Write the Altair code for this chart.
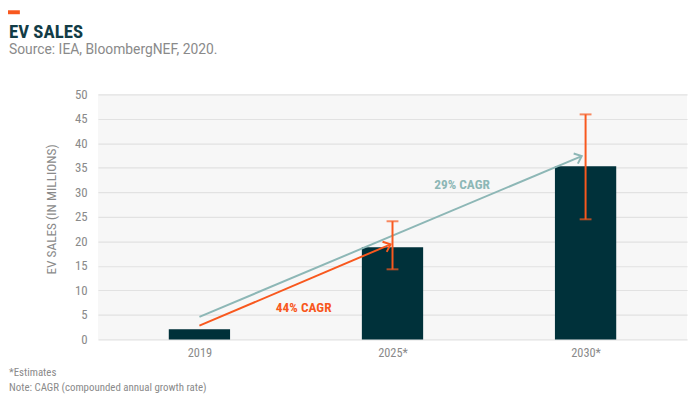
import math
import altair as alt
import pandas as pd

# ---- data ----
years = ["2019", "2025*", "2030*"]
sales = [2.1, 18.8, 35.3]
err_low = [None, 14.3, 24.5]
err_high = [None, 24.1, 45.9]

arrow_labels = ["44% CAGR", "29% CAGR"]
arrow_x0 = [0.0, 0.0]
arrow_y0 = [2.8, 4.6]
arrow_x1 = [0.99, 1.98]
arrow_y1 = [19.4, 37.4]
label_x = [0.54, 1.36]
label_y = [6.5, 31.5]

title_text = "EV SALES"
subtitle_text = "Source: IEA, BloombergNEF, 2020."
footnotes = ["*Estimates", "Note: CAGR (compounded annual growth rate)"]
y_title = "EV SALES (IN MILLIONS)"

# ---- styling ----
W, H = 596, 248
XMIN, XMAX = -0.5, 2.5
YMIN, YMAX = 0, 50
BAR = "#00313a"
ORANGE = "#f8581e"
TEAL = "#8db7b6"
GRAY = "#8a8a8a"
TITLE = "#123c46"
NARROW = "Roboto Condensed, Roboto, sans-serif"

bars = pd.DataFrame({"i": range(len(years)), "year": years, "sales": sales,
                     "lo": err_low, "hi": err_high})
errs = bars.dropna()

px_x = W / (XMAX - XMIN)
px_y = H / (YMAX - YMIN)
arrows = pd.DataFrame({"label": arrow_labels, "x0": arrow_x0, "y0": arrow_y0,
                       "x1": arrow_x1, "y1": arrow_y1, "lx": label_x, "ly": label_y})
arrows["angle"] = [
    360 - math.degrees(math.atan2((b - a) * px_y, (d - c) * px_x))
    for a, b, c, d in zip(arrows.y0, arrows.y1, arrows.x0, arrows.x1)
]

xscale = alt.Scale(domain=[XMIN, XMAX], nice=False, zero=False)
yscale = alt.Scale(domain=[YMIN, YMAX], nice=False)
color = alt.Color("label:N", scale=alt.Scale(domain=arrow_labels, range=[ORANGE, TEAL]), legend=None)

label_expr = "[" + ",".join("'%s'" % y for y in years) + "][datum.value]"

x_axis = alt.Axis(
    values=list(range(len(years))), labelExpr=label_expr, title=None, grid=False,
    domain=False, ticks=False, tickSize=0, labelPadding=7, labelFontSize=12.5,
    labelFont=NARROW, labelColor=GRAY)
y_axis = alt.Axis(
    values=list(range(0, 55, 5)), title=y_title, grid=True, gridColor="#e2e2e2",
    gridWidth=1.2, domain=False, ticks=False, tickSize=0, labelPadding=11,
    labelOverlap=False, labelFontSize=13, labelFont=NARROW, labelColor=GRAY,
    titleFont=NARROW, titleFontSize=13.5, titleFontWeight="normal", titleColor=GRAY,
    titleX=-40, titleY=116)


def X(field):
    return alt.X(field, scale=xscale, axis=x_axis)


def Y(field):
    return alt.Y(field, scale=yscale, axis=y_axis)


bar_layer = alt.Chart(bars).mark_bar(width=62, color=BAR).encode(x=X("i:Q"), y=Y("sales:Q"))

err_rule = alt.Chart(errs).mark_rule(color=ORANGE, strokeWidth=2).encode(
    x=X("i:Q"), y=Y("lo:Q"), y2="hi:Q")
err_lo = alt.Chart(errs).mark_tick(color=ORANGE, orient="horizontal", size=12, thickness=2).encode(
    x=X("i:Q"), y=Y("lo:Q"))
err_hi = alt.Chart(errs).mark_tick(color=ORANGE, orient="horizontal", size=12, thickness=2).encode(
    x=X("i:Q"), y=Y("hi:Q"))

arrow_line = alt.Chart(arrows).mark_rule(strokeWidth=2).encode(
    x=X("x0:Q"), y=Y("y0:Q"), x2="x1:Q", y2="y1:Q", color=color)
chevron = "M -1 -0.85 L 0 0 L -1 0.85"
arrow_head = alt.Chart(arrows).mark_point(shape=chevron, filled=False, strokeWidth=2,
                                          size=170, opacity=1).encode(
    x=X("x1:Q"), y=Y("y1:Q"), angle=alt.Angle("angle:Q", scale=None), color=color)
arrow_text = alt.Chart(arrows).mark_text(fontSize=13.5, fontWeight="bold", font=NARROW).encode(
    x=X("lx:Q"), y=Y("ly:Q"), text="label:N", color=color)

one = lambda d: alt.Data(values=[d])
accent = alt.Chart(one({"a": 1})).mark_rect(color=ORANGE).encode(
    x=alt.value(-91), x2=alt.value(-79), y=alt.value(-85), y2=alt.value(-81))
title_layer = alt.Chart(one({"t": title_text})).mark_text(
    align="left", baseline="alphabetic", fontSize=19, fontWeight="bold", font=NARROW,
    color=TITLE).encode(x=alt.value(-90), y=alt.value(-57), text="t:N")
subtitle_layer = alt.Chart(one({"t": subtitle_text})).mark_text(
    align="left", baseline="alphabetic", fontSize=14, font="Roboto", color=GRAY
).encode(x=alt.value(-90), y=alt.value(-41), text="t:N")
foot_layer = alt.Chart(one({"t": "\n".join(footnotes)})).mark_text(
    align="left", baseline="alphabetic", fontSize=11, font=NARROW, color=GRAY,
    lineBreak="\n", lineHeight=15).encode(x=alt.value(-90), y=alt.value(285), text="t:N")

chart = alt.layer(
    bar_layer, arrow_line, arrow_head, err_rule, err_lo, err_hi, arrow_text,
    accent, title_layer, subtitle_layer, foot_layer
).properties(
    width=W, height=H,
    autosize=alt.AutoSizeParams(type="none"),
    padding={"left": 91, "top": 85, "right": 5, "bottom": 60},
    background="white",
).configure_view(fill="#f7f7f7", stroke=None)

chart.save("out.html", embed_options={"renderer": "svg", "actions": False})
